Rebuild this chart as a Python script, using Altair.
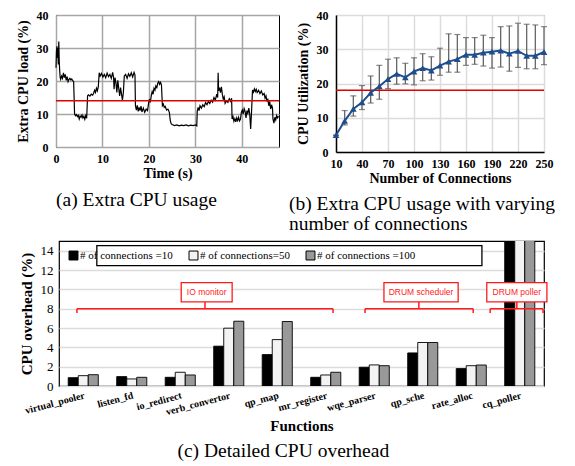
import altair as alt
import pandas as pd

SERIF = "Liberation Serif"
SANS = "Liberation Sans"

# ---------------- (a) Extra CPU usage over time ----------------
TIME = [0.0, 0.1, 0.2, 0.3, 0.4, 0.5, 0.6, 0.7, 0.8, 0.9,
        1.0, 1.2, 1.4, 1.6, 1.8, 2.0, 2.2, 2.4, 2.6, 2.8, 3.0, 3.2, 3.4, 3.6, 3.8,
        4.0, 4.2, 4.4, 4.6, 4.8, 5.0, 5.2, 5.4, 5.6, 5.8, 6.0, 6.2, 6.4, 6.6,
        6.8, 7.0, 7.3, 7.6, 7.9, 8.1, 8.3, 8.5, 8.7, 8.9, 9.1,
        9.3, 9.5, 9.8, 10.1, 10.4, 10.7, 11.0, 11.3, 11.6, 11.9, 12.2, 12.4,
        12.5, 12.7, 12.9, 13.1, 13.3, 13.5, 13.7, 13.9, 14.1, 14.3, 14.5,
        14.7, 15.0, 15.3, 15.6, 15.9, 16.2, 16.5, 16.8, 17.0,
        17.1, 17.3, 17.5, 17.7, 17.9, 18.1, 18.3, 18.5, 18.8, 19.1, 19.4, 19.7,
        19.9, 20.1, 20.3, 20.5, 20.7, 20.9, 21.1, 21.3, 21.5, 21.7, 21.9, 22.1, 22.3, 22.5, 22.7,
        22.9, 23.1, 23.3, 23.5, 23.8, 24.1, 24.4,
        24.6, 24.8, 25.0, 25.5, 26.0, 26.5, 27.0, 27.5, 28.0, 28.5, 29.0, 29.5, 30.0, 30.3,
        30.4, 30.6, 30.8, 31.0, 31.3, 31.6, 31.9, 32.2, 32.5, 32.8, 33.1, 33.4, 33.7, 34.0,
        34.3, 34.6, 34.8, 34.9, 35.0, 35.2, 35.4, 35.6, 35.8, 36.0, 36.2, 36.4, 36.7, 37.0,
        37.3, 37.6, 37.8,
        37.9, 38.1, 38.3, 38.5, 38.7, 38.9, 39.1, 39.3, 39.5, 39.7,
        39.9, 40.1, 40.3, 40.5, 40.7, 40.9, 41.1, 41.3, 41.5, 41.7, 41.9, 42.1,
        42.3, 42.5, 42.7, 42.9, 43.1, 43.3, 43.6, 43.9, 44.2, 44.5, 44.8, 45.0, 45.2, 45.4,
        45.6, 45.8, 46.0, 46.2, 46.4, 46.6,
        46.7, 46.9, 47.1, 47.3, 47.5, 47.7, 47.9]
LOAD = [24.0, 29.0, 30.5, 27.0, 30.0, 25.0, 32.0, 26.0, 23.0, 21.0,
        20.5, 21.5, 20.8, 22.5, 21.0, 22.0, 20.2, 21.3, 19.8, 20.5, 20.8, 20.3, 20.6, 20.1, 19.8,
        10.0, 9.5, 9.8, 9.2, 9.6, 8.5, 9.4, 9.0, 9.7, 8.8, 9.3, 8.4, 9.5, 8.7,
        15.5, 15.8, 15.4, 16.0, 15.7, 16.3, 17.2, 16.5, 17.8, 17.0, 18.2,
        22.5, 21.5, 22.3, 21.2, 22.0, 21.0, 22.4, 21.3, 22.0, 20.8, 22.6, 21.0,
        17.5, 21.0, 19.5, 16.5, 20.2, 17.8, 15.5, 18.0, 16.0, 14.2, 16.5,
        21.5, 22.0, 20.8, 22.2, 21.4, 22.5, 21.2, 22.6, 21.8,
        12.5, 11.2, 12.6, 10.8, 12.0, 11.0, 12.4, 10.6, 11.8, 10.5, 11.5, 11.0,
        13.0, 14.5, 13.5, 15.5, 16.8, 16.0, 17.8, 17.2, 18.5, 18.0, 19.3, 19.8, 19.0, 19.6, 18.8,
        12.5, 13.0, 12.0, 12.3, 11.2, 11.5, 10.5,
        8.0, 7.0, 6.8, 6.5, 6.7, 6.4, 6.6, 6.5, 6.7, 6.4, 6.6, 6.5, 6.7, 6.4,
        10.8, 12.0, 11.0, 12.5, 11.8, 12.8, 12.2, 13.5, 12.8, 13.8, 13.2, 14.2, 13.6, 15.0,
        14.2, 16.0, 15.0, 22.5, 17.0, 18.0, 16.5, 18.2, 16.0, 14.5, 15.2, 13.2, 14.0, 13.5,
        14.6, 13.8, 14.8,
        8.5, 9.2, 7.8, 8.6, 7.6, 8.8, 8.0, 9.0, 7.9, 8.4,
        10.5, 11.2, 10.0, 11.6, 10.8, 8.8, 11.0, 10.2, 11.8, 10.0, 5.5, 11.0,
        17.3, 16.6, 17.6, 16.8, 17.5, 16.5, 17.2, 16.2, 17.0, 15.8, 16.2, 14.8, 15.5, 13.8,
        14.6, 12.5, 13.8, 11.5, 12.8, 11.8,
        8.5, 7.2, 9.0, 8.2, 9.5, 8.8, 9.3]
AVG_LOAD = [14]

# ---------------- (b) CPU vs number of connections ----------------
CONN = [10, 20, 30, 40, 50, 60, 70, 80, 90, 100, 110, 120, 130,
        140, 150, 160, 170, 180, 190, 200, 210, 220, 230, 240, 250]
UTIL = [4.9, 9.1, 12.6, 14.5, 17.3, 19.2, 21.3, 22.8, 21.8, 23.5, 24.5, 23.8, 25.2,
        26.4, 27.1, 28.4, 28.4, 29.0, 29.3, 29.6, 28.7, 29.5, 28.1, 28.1, 29.2]
UTIL_HI = [4.9, 12.1, 16.4, 19.4, 22.2, 25.3, 27.1, 27.5, 25.9, 27.5, 28.7, 27.8, 30.3,
           34.5, 34.3, 33.4, 33.4, 34.1, 33.4, 36.6, 36.8, 37.6, 37.3, 37.1, 36.6]
UTIL_LO = [4.9, 7.9, 10.5, 12.4, 14.3, 15.4, 18.5, 19.8, 19.9, 19.6, 20.8, 21.0, 22.4,
           23.3, 23.3, 25.3, 25.6, 25.1, 24.5, 24.8, 23.6, 24.7, 24.3, 24.3, 25.5]
LIMIT_B = [18]
CONN_TICKS = [10, 40, 70, 100, 130, 160, 190, 220, 250]

# ---------------- (c) Detailed CPU overhead ----------------
FUNCS = ["virtual_pooler", "listen_fd", "io_redirect", "verb_convertor", "qp_map",
         "mr_register", "wqe_parser", "qp_sche", "rate_alloc", "cq_poller"]
C10 = [0.86, 0.97, 0.90, 4.12, 3.25, 0.90, 1.94, 3.42, 1.80, 20.0]
C50 = [1.07, 0.73, 1.42, 5.98, 4.80, 1.14, 2.18, 4.50, 2.10, 20.0]
C100 = [1.17, 0.90, 1.14, 6.70, 6.67, 1.42, 2.10, 4.50, 2.17, 20.0]
SERIES = ["# of connections =10", "# of connections=50", "# of connections =100"]

GROUPS = ["IO monitor", "DRUM scheduler", "DRUM poller"]
G_START = [0.37, 6.31, 8.89]
G_END = [5.65, 8.54, 9.98]
G_MID = [3.01, 7.42, 9.44]
BOX_L = [2.52, 6.70, 8.82]
BOX_R = [3.57, 8.23, 10.06]
LEGEND_BOX = dict(x=[0.78], x2=[8.72], y=[12.45], y2=[14.52])

CAP_SIZE = 19.5

# ======================= panel (a) =======================
df_a = pd.DataFrame({"t": TIME, "load": LOAD})
ax_a = dict(labelFont=SERIF, labelFontWeight="bold", labelFontSize=12, titleFont=SERIF,
            titleFontWeight="bold", titleFontSize=14, gridColor="#a6a6a6", gridWidth=1.5,
            domain=False, ticks=False, labelColor="black", titleColor="black",
            labelOverlap=False, labelFlush=False)
xa_axis = alt.Axis(values=[0, 10, 20, 30, 40], title="Time (s)", labelPadding=6,
                   titlePadding=2, **ax_a)
ya_axis = alt.Axis(values=[0, 10, 20, 30, 40], title="Extra CPU load (%)",
                   labelPadding=8, titlePadding=6, **ax_a)
ya_scale = alt.Scale(domain=[0, 40], nice=False)
line_a = alt.Chart(df_a).mark_line(color="black", strokeWidth=1.2).encode(
    x=alt.X("t:Q", scale=alt.Scale(domain=[0, 48], nice=False), axis=xa_axis),
    y=alt.Y("load:Q", scale=ya_scale, axis=ya_axis),
)
rule_a = alt.Chart(pd.DataFrame({"y": AVG_LOAD})).mark_rule(color="#e00000", strokeWidth=1.5).encode(
    y=alt.Y("y:Q", scale=ya_scale, axis=ya_axis))
chart_a = alt.layer(line_a, rule_a).properties(
    width=223, height=132,
    view=alt.ViewBackground(stroke="black", strokeWidth=1),
    title=alt.TitleParams("(a) Extra CPU usage", orient="bottom", anchor="middle", frame="bounds",
                          offset=11, dx=-12, font=SERIF, fontSize=CAP_SIZE, fontWeight="normal",
                          color="black"),
)

# ======================= panel (b) =======================
df_b = pd.DataFrame({"n": CONN, "u": UTIL, "hi": UTIL_HI, "lo": UTIL_LO})
ax_b = dict(labelFont=SERIF, labelFontWeight="bold", labelFontSize=12, titleFont=SERIF,
            titleFontWeight="bold", titleFontSize=14, gridColor="#dcdcdc", gridWidth=1.5,
            domainColor="black", domainWidth=1.5, ticks=False, labelColor="black", titleColor="black",
            labelOverlap=False, labelFlush=False)
xb_axis = alt.Axis(values=CONN_TICKS, title="Number of Connections", labelPadding=6,
                   titlePadding=2, **ax_b)
yb_axis = alt.Axis(values=[0, 10, 20, 30, 40], title="CPU Utilization (%)", labelPadding=8,
                   titlePadding=6, **ax_b)
xb_scale = alt.Scale(domain=[10, 250], nice=False)
yb_scale = alt.Scale(domain=[0, 40], nice=False)
xb = alt.X("n:Q", scale=xb_scale, axis=xb_axis)
base_b = alt.Chart(df_b)
err_b = base_b.mark_rule(color="#666666", strokeWidth=1.3).encode(
    x=xb, y=alt.Y("lo:Q", scale=yb_scale, axis=yb_axis), y2="hi:Q")
cap_hi = base_b.mark_tick(color="#555555", orient="horizontal", size=6, thickness=1.2).encode(
    x=xb, y=alt.Y("hi:Q", scale=yb_scale, axis=yb_axis))
cap_lo = base_b.mark_tick(color="#555555", orient="horizontal", size=6, thickness=1.2).encode(
    x=xb, y=alt.Y("lo:Q", scale=yb_scale, axis=yb_axis))
line_b = base_b.mark_line(color="#1f4e8c", strokeWidth=2,
                          point=alt.OverlayMarkDef(shape="triangle-up", size=45, filled=True,
                                                   color="#1f4e8c")).encode(
    x=xb, y=alt.Y("u:Q", scale=yb_scale, axis=yb_axis))
rule_b = alt.Chart(pd.DataFrame({"y": LIMIT_B})).mark_rule(color="#e00000", strokeWidth=1.5).encode(
    y=alt.Y("y:Q", scale=yb_scale, axis=yb_axis))
chart_b = alt.layer(err_b, cap_hi, cap_lo, rule_b, line_b).properties(
    width=208, height=137,
    view=alt.ViewBackground(stroke="#888888", strokeWidth=1),
    title=alt.TitleParams(["(b) Extra CPU usage with varying", "number of connections"],
                          orient="bottom", anchor="start", frame="bounds", offset=10, dx=-7,
                          font=SERIF, fontSize=CAP_SIZE, fontWeight="normal", color="black",
                          lineHeight=20),
)

# ======================= panel (c) =======================
rows = []
for f, a, b, c in zip(FUNCS, C10, C50, C100):
    rows.append({"func": f, "series": SERIES[0], "v": a})
    rows.append({"func": f, "series": SERIES[1], "v": b})
    rows.append({"func": f, "series": SERIES[2], "v": c})
df_c = pd.DataFrame(rows)

yc_scale = alt.Scale(domain=[0, 15], nice=False)
yc_axis = alt.Axis(values=[0, 2, 4, 6, 8, 10, 12, 14], title="CPU overhead (%)",
                   labelFont=SERIF, labelFontSize=13, labelColor="black",
                   titleFont=SERIF, titleFontWeight="bold", titleFontSize=15, titleColor="black",
                   gridColor="#dcdcdc", gridWidth=1.5, domain=False, ticks=False,
                   labelPadding=6, titlePadding=6, labelOverlap=False, labelFlush=False)


def yc(field):
    return alt.Y(field, scale=yc_scale, axis=yc_axis)


bars = alt.Chart(df_c).mark_bar(stroke="black", strokeWidth=0.9, clip=True).encode(
    x=alt.X("func:N", sort=FUNCS, scale=alt.Scale(paddingInner=0.38, paddingOuter=0.19),
            axis=alt.Axis(title="Functions", labelAngle=-15, labelAlign="right", labelBaseline="top",
                          labelFont=SERIF, labelFontWeight="bold", labelFontSize=10,
                          labelColor="black", titleFont=SERIF, titleFontWeight="bold",
                          titleFontSize=15, titleColor="black", domain=False, ticks=False,
                          labelPadding=4, titlePadding=2, labelOverlap=False)),
    xOffset=alt.XOffset("series:N", sort=SERIES),
    y=yc("v:Q"),
    color=alt.Color("series:N", sort=SERIES,
                    scale=alt.Scale(domain=SERIES, range=["#000000", "#f3f3f3", "#999999"]),
                    legend=alt.Legend(title=None, orient="none", legendX=57, legendY=9,
                                      direction="horizontal", columns=3, columnPadding=14,
                                      symbolType="square", symbolSize=80, symbolStrokeColor="black",
                                      symbolStrokeWidth=1, symbolOpacity=1, labelFont=SERIF,
                                      labelFontSize=11, labelColor="black", labelOffset=1,
                                      padding=0)),
)

xq = alt.Scale(domain=[0, 10], nice=False)
df_leg = pd.DataFrame(LEGEND_BOX)
leg_box = alt.Chart(df_leg).mark_rect(fill="white", stroke="black", strokeWidth=1.3).encode(
    x=alt.X("x:Q", scale=xq, axis=None), x2="x2:Q", y=yc("y:Q"), y2="y2:Q")

df_g = pd.DataFrame({"g": GROUPS, "s": G_START, "e": G_END, "m": G_MID, "bl": BOX_L, "br": BOX_R})
df_g["c"] = (df_g["bl"] + df_g["br"]) / 2
df_g["yl"] = 8.0
df_g["yd"] = 7.55
df_g["yb"] = 8.7
df_g["yt"] = 10.7
df_g["ym"] = 9.7
red = "#ff1a1a"
g_base = alt.Chart(df_g)
br_h = g_base.mark_rule(color=red, strokeWidth=1.5).encode(
    x=alt.X("s:Q", scale=xq, axis=None), x2="e:Q", y=yc("yl:Q"))
br_l = g_base.mark_rule(color=red, strokeWidth=1.5).encode(
    x=alt.X("s:Q", scale=xq, axis=None), y=yc("yd:Q"), y2="yl:Q")
br_r = g_base.mark_rule(color=red, strokeWidth=1.5).encode(
    x=alt.X("e:Q", scale=xq, axis=None), y=yc("yd:Q"), y2="yl:Q")
br_m = g_base.mark_rule(color=red, strokeWidth=1.5).encode(
    x=alt.X("m:Q", scale=xq, axis=None), y=yc("yl:Q"), y2="yb:Q")
box = g_base.mark_rect(fill="white", stroke=red, strokeWidth=1.3).encode(
    x=alt.X("bl:Q", scale=xq, axis=None), x2="br:Q", y=yc("yb:Q"), y2="yt:Q")
box_t = g_base.mark_text(color=red, font=SANS, fontSize=8.5).encode(
    x=alt.X("c:Q", scale=xq, axis=None), y=yc("ym:Q"), text="g:N")

chart_c = alt.layer(bars, leg_box, br_h, br_l, br_r, br_m, box, box_t).resolve_scale(
    x="independent").properties(
    width=485, height=145,
    view=alt.ViewBackground(stroke="black", strokeWidth=1.2),
    title=alt.TitleParams("(c) Detailed CPU overhead", orient="bottom", anchor="middle",
                          frame="bounds", offset=8, font=SERIF, fontSize=CAP_SIZE,
                          fontWeight="normal", color="black"),
)


def spacer(w):
    # invisible filler used only to nudge a panel to the right
    return alt.Chart(pd.DataFrame({"z": [0]})).mark_point(opacity=0).encode(
        x=alt.value(0), y=alt.value(0)).properties(
        width=w, height=10, view=alt.ViewBackground(strokeWidth=0, stroke="white"))


top = alt.hconcat(spacer(4), chart_a, spacer(2), chart_b, spacing=0)
bottom = alt.hconcat(spacer(7), chart_c, spacing=0)
chart = alt.vconcat(top, bottom, spacing=4).resolve_scale(
    color="independent").properties(padding=0).configure(background="white").configure_axis(
    labelOverlap=False, labelFlush=False)

chart.save("out.html", embed_options={"renderer": "svg", "actions": False})
